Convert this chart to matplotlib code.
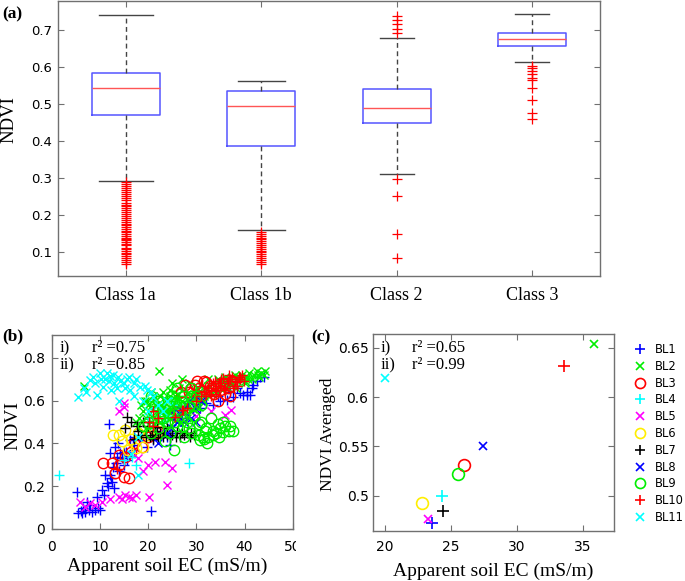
import matplotlib
matplotlib.use("Agg")
import matplotlib.pyplot as plt
from matplotlib.lines import Line2D
from matplotlib.patches import Rectangle

# ---------------- Panel (a) data: box statistics ----------------
classes = ["Class 1a", "Class 1b", "Class 2", "Class 3"]
box_q1 = [0.470, 0.387, 0.448, 0.659]
box_med = [0.545, 0.494, 0.490, 0.676]
box_q3 = [0.585, 0.537, 0.542, 0.693]
whisk_lo = [0.293, 0.159, 0.312, 0.614]
whisk_hi = [0.742, 0.562, 0.679, 0.745]
fliers_1a = [0.068, 0.073, 0.079, 0.083, 0.088, 0.094, 0.098, 0.103, 0.107, 0.112,
             0.118, 0.121, 0.127, 0.132, 0.136, 0.139, 0.143, 0.148, 0.153, 0.158,
             0.163, 0.168, 0.172, 0.176, 0.182, 0.187, 0.193, 0.198, 0.203, 0.209,
             0.214, 0.219, 0.224, 0.228, 0.234, 0.241, 0.246, 0.251, 0.256, 0.262,
             0.268, 0.273, 0.279, 0.284, 0.289]
fliers_1b = [0.068, 0.074, 0.079, 0.084, 0.089, 0.094, 0.099, 0.104, 0.109, 0.114,
             0.119, 0.124, 0.129, 0.134, 0.138, 0.143, 0.148, 0.153]
fliers_2 = [0.739, 0.729, 0.718, 0.705, 0.692, 0.299, 0.252, 0.148, 0.083]
fliers_3 = [0.604, 0.597, 0.590, 0.581, 0.572, 0.567, 0.545, 0.511, 0.476, 0.459]
cap_widths = [0.40, 0.35, 0.25, 0.25]

# ---------------- Panel (b) data: NDVI vs apparent soil EC per baseline ----------------
bl_names = ["BL1", "BL2", "BL3", "BL4", "BL5", "BL6", "BL7", "BL8", "BL9", "BL10", "BL11"]
bl_colors = ["#0000ff", "#00ee00", "#ff0000", "#00ffff", "#ff00ff", "#ffee00",
             "#000000", "#0000ff", "#00ee00", "#ff0000", "#00ffff"]
bl_markers = ["+", "x", "o", "+", "x", "o", "+", "x", "o", "+", "x"]

b_x = {
    "BL1": [5.5, 6.2, 7.0, 8.3, 9.0, 10.0, 7.3, 5.2, 9.3, 11.4, 12.1, 11.1, 12.8, 13.5, 14.2, 14.9,
            15.6, 12.1, 13.1, 13.8, 16.3, 17.0, 18.3, 19.7, 21.1, 23.9, 11.8, 20.7, 12.5, 13.0, 10.5,
            14.0, 15.0, 16.0, 17.0, 8.0, 6.5, 24.5, 30.8, 33.5, 36.3, 37.7, 39.1, 40.5, 41.1, 41.8,
            43.2, 38.4, 35.0, 32.0, 39.7, 40.5, 41.5, 42.5, 44.0, 37.0, 34.5, 25.0, 27.0,
            6.0, 7.8, 9.6, 10.8, 11.6, 12.4, 13.4, 14.6, 15.4, 16.8],
    "BL2": [18.0, 19.0, 19.5, 20.0, 20.5, 21.0, 21.5, 22.0, 22.2, 22.5, 23.0, 23.5, 24.0, 24.5, 25.0,
            25.5, 26.0, 26.5, 27.0, 27.5, 28.0, 28.5, 29.0, 29.5, 30.0, 30.5, 31.0, 31.5, 32.0, 32.5,
            33.0, 33.5, 34.0, 34.5, 35.0, 35.5, 36.0, 36.5, 37.0, 37.5, 38.0, 38.5, 39.0, 39.5, 40.0,
            40.5, 41.0, 41.5, 42.0, 42.5, 43.0, 43.5, 44.0, 44.2, 6.6, 20.0, 22.0, 24.0, 26.0, 28.0,
            25.0, 27.0, 30.0, 23.0, 21.0, 18.5, 17.5, 19.2, 20.8, 22.8, 24.8, 26.3, 28.3, 29.8, 31.8,
            33.3, 35.3, 21.3, 23.7, 25.7, 27.7, 19.8, 32.8, 34.8, 36.8, 38.8, 40.8, 42.8,
            18.2, 19.4, 20.3, 21.6, 22.4, 23.3, 24.2, 25.3, 26.2, 27.3, 28.2, 29.3, 30.2, 31.3, 19.6,
            21.8, 23.9, 25.9, 27.9, 29.9, 20.6, 22.6, 24.6, 26.6, 28.6, 30.6, 32.6, 34.2, 36.2, 38.2,
            40.2],
    "BL3": [12.5, 13.2, 14.9, 16.0, 13.9, 15.3, 18.7, 17.0, 14.0, 16.5, 10.7, 27.7, 29.8, 32.1, 30.5,
            33.0, 34.0, 35.0, 36.0, 37.0, 35.5, 34.5, 36.5, 31.0, 24.0, 20.0, 22.0, 26.0, 28.5, 37.5,
            28.8, 31.6, 33.6, 26.8, 30.2, 32.8],
    "BL4": [1.45, 28.5, 16.6, 17.5, 20.0, 22.0, 24.0, 26.0, 23.0, 15.0, 25.0, 21.0, 27.0],
    "BL5": [5.9, 7.0, 9.0, 10.4, 13.9, 15.3, 16.7, 14.5, 16.0, 20.1, 21.5, 23.6, 24.9, 23.9, 14.9,
            37.3, 36.0, 8.0, 12.0, 17.5, 18.0, 20.0, 15.0, 14.0, 30.0, 33.0, 19.0, 22.0],
    "BL6": [12.8, 13.9, 15.2, 19.0, 15.9, 16.5, 18.0, 14.5, 17.5, 22.0, 20.0],
    "BL7": [15.6, 15.2, 20.4, 23.9, 26.6, 28.0, 21.8, 18.0, 19.0, 22.5, 25.0, 27.0, 17.0, 16.5,
            24.0, 29.0, 20.0, 21.0, 23.0, 26.0, 19.5, 20.8, 22.0, 23.2, 24.6, 25.8, 27.4, 28.6, 29.6,
            21.4, 18.6, 17.6],
    "BL8": [25.0, 26.0, 27.0, 28.0, 29.0, 30.0, 24.0, 31.0, 27.5, 26.0, 28.5, 25.5, 30.0, 22.0],
    "BL9": [20.0, 21.0, 22.0, 22.0, 23.0, 24.0, 24.5, 25.0, 25.3, 26.0, 26.5, 27.0, 27.5, 28.0, 28.5,
            29.0, 29.5, 30.0, 30.5, 31.0, 31.5, 32.0, 32.5, 33.0, 33.5, 34.0, 34.5, 35.0, 35.5, 36.0,
            37.0, 19.0, 23.5, 26.0, 20.5, 29.0, 24.0, 27.0, 31.0, 31.4, 33.5, 35.6, 37.6, 30.8,
            21.5, 22.5, 23.5, 24.5, 25.5, 26.5, 27.5, 28.5, 29.5, 30.5, 20.5, 22.8, 25.8, 28.8, 31.8,
            34.8, 36.8, 32.3, 24.2, 27.2],
    "BL10": [20.1, 21.0, 27.0, 28.0, 30.0, 31.0, 32.0, 33.0, 34.0, 35.0, 35.6, 36.5, 37.0, 38.0,
             39.0, 39.5, 36.0, 34.0, 38.5, 33.0, 13.5, 21.0, 22.0, 33.5, 37.5, 25.6, 27.3, 39.0, 38.4,
             31.5, 32.5, 34.5, 35.2, 36.8, 37.8, 38.8, 39.8, 33.8, 35.8],
    "BL11": [5.5, 6.6, 8.0, 9.3, 10.0, 10.7, 11.4, 12.0, 12.8, 13.5, 14.2, 15.0, 15.6, 16.3, 17.0,
             18.3, 19.7, 21.1, 9.0, 11.0, 13.0, 16.0, 17.9, 14.0, 17.0, 19.0, 22.0, 24.0, 20.0, 23.0,
             16.5, 18.0, 7.2, 8.6, 10.3, 11.8, 13.7, 15.3, 17.5, 19.3, 20.6, 12.4],
}
b_y = {
    "BL1": [0.076, 0.076, 0.080, 0.081, 0.090, 0.089, 0.128, 0.174, 0.151, 0.213, 0.252, 0.252, 0.291,
            0.338, 0.354, 0.361, 0.322, 0.354, 0.385, 0.400, 0.416, 0.431, 0.416, 0.385, 0.416, 0.431,
            0.489, 0.086, 0.220, 0.190, 0.180, 0.270, 0.300, 0.340, 0.370, 0.110, 0.100, 0.390, 0.564,
            0.579, 0.603, 0.618, 0.634, 0.642, 0.626, 0.673, 0.712, 0.657, 0.600, 0.590, 0.626, 0.626,
            0.660, 0.690, 0.710, 0.640, 0.620, 0.450, 0.520,
            0.085, 0.090, 0.100, 0.160, 0.200, 0.240, 0.310, 0.330, 0.360, 0.390],
    "BL2": [0.48, 0.55, 0.52, 0.58, 0.50, 0.56, 0.60, 0.53, 0.74, 0.62, 0.57, 0.50, 0.60, 0.65, 0.55,
            0.62, 0.58, 0.66, 0.60, 0.55, 0.63, 0.68, 0.60, 0.65, 0.58, 0.64, 0.67, 0.62, 0.66, 0.70,
            0.64, 0.68, 0.66, 0.70, 0.67, 0.69, 0.71, 0.66, 0.70, 0.68, 0.72, 0.69, 0.70, 0.72, 0.69,
            0.71, 0.73, 0.70, 0.72, 0.74, 0.71, 0.73, 0.72, 0.74, 0.67, 0.46, 0.44, 0.47, 0.50, 0.52,
            0.68, 0.70, 0.61, 0.64, 0.62, 0.58, 0.50, 0.45, 0.53, 0.56, 0.52, 0.60, 0.57, 0.61, 0.64,
            0.63, 0.65, 0.49, 0.55, 0.53, 0.58, 0.60, 0.67, 0.69, 0.68, 0.71, 0.70, 0.72,
            0.52, 0.60, 0.54, 0.58, 0.50, 0.61, 0.55, 0.59, 0.63, 0.57, 0.61, 0.56, 0.66, 0.60, 0.47,
            0.51, 0.53, 0.56, 0.58, 0.63, 0.64, 0.58, 0.62, 0.53, 0.55, 0.57, 0.62, 0.64, 0.68, 0.66,
            0.68],
    "BL3": [0.307, 0.260, 0.244, 0.237, 0.346, 0.338, 0.385, 0.400, 0.300, 0.360, 0.307, 0.673, 0.673,
            0.688, 0.660, 0.650, 0.670, 0.650, 0.630, 0.620, 0.680, 0.600, 0.660, 0.620, 0.500, 0.430,
            0.450, 0.550, 0.640, 0.690, 0.660, 0.690, 0.630, 0.640, 0.690, 0.670],
    "BL4": [0.252, 0.308, 0.338, 0.300, 0.520, 0.550, 0.530, 0.580, 0.500, 0.320, 0.600, 0.470, 0.560],
    "BL5": [0.128, 0.104, 0.112, 0.128, 0.151, 0.159, 0.143, 0.140, 0.150, 0.151, 0.314, 0.314, 0.284,
            0.206, 0.587, 0.556, 0.533, 0.120, 0.140, 0.160, 0.330, 0.300, 0.570, 0.550, 0.530, 0.550,
            0.270, 0.450],
    "BL6": [0.440, 0.440, 0.463, 0.385, 0.369, 0.420, 0.450, 0.410, 0.380, 0.460, 0.440],
    "BL7": [0.525, 0.470, 0.431, 0.440, 0.431, 0.447, 0.478, 0.460, 0.500, 0.450, 0.440, 0.450, 0.420,
            0.500, 0.470, 0.450, 0.480, 0.420, 0.430, 0.460, 0.430, 0.440, 0.430, 0.450, 0.430, 0.430,
            0.440, 0.430, 0.440, 0.460, 0.440, 0.480],
    "BL8": [0.47, 0.50, 0.55, 0.58, 0.52, 0.56, 0.45, 0.60, 0.50, 0.53, 0.60, 0.56, 0.50, 0.40],
    "BL9": [0.50, 0.55, 0.60, 0.47, 0.52, 0.57, 0.45, 0.62, 0.37, 0.48, 0.55, 0.60, 0.43, 0.50, 0.57,
            0.45, 0.53, 0.62, 0.44, 0.50, 0.42, 0.47, 0.43, 0.52, 0.46, 0.45, 0.49, 0.47, 0.50, 0.48,
            0.48, 0.48, 0.41, 0.66, 0.62, 0.66, 0.50, 0.52, 0.58, 0.431, 0.440, 0.455, 0.460, 0.416,
            0.58, 0.52, 0.56, 0.60, 0.50, 0.58, 0.62, 0.47, 0.58, 0.49, 0.45, 0.55, 0.59, 0.62, 0.46,
            0.43, 0.46, 0.40, 0.54, 0.48],
    "BL10": [0.50, 0.48, 0.556, 0.564, 0.60, 0.62, 0.63, 0.65, 0.66, 0.68, 0.704, 0.69, 0.70, 0.69,
             0.70, 0.72, 0.66, 0.63, 0.67, 0.62, 0.28, 0.55, 0.52, 0.68, 0.71, 0.525, 0.556, 0.712, 0.688,
             0.64, 0.66, 0.67, 0.70, 0.72, 0.66, 0.71, 0.69, 0.69, 0.65],
    "BL11": [0.615, 0.660, 0.696, 0.626, 0.727, 0.665, 0.727, 0.715, 0.720, 0.657, 0.690, 0.680, 0.700,
             0.650, 0.680, 0.665, 0.650, 0.618, 0.680, 0.700, 0.680, 0.710, 0.252, 0.600, 0.620, 0.600,
             0.580, 0.600, 0.550, 0.550, 0.350, 0.430, 0.640, 0.710, 0.700, 0.690, 0.710, 0.660, 0.700,
             0.670, 0.640, 0.650],
}

# ---------------- Panel (c) data: averaged values per baseline ----------------
c_ec = [23.59, 35.88, 25.98, 24.34, 23.26, 22.83, 24.37, 27.42, 25.53, 33.59, 20.0]
c_ndvi = [0.4726, 0.6537, 0.5314, 0.500, 0.4767, 0.4929, 0.4848, 0.550, 0.5223, 0.6318, 0.6189]

# ---------------- figure ----------------
W, H = 685, 581
fig = plt.figure(figsize=(W / 100, H / 100), dpi=100)
SERIF = ["Liberation Serif", "DejaVu Serif"]
SANS = ["DejaVu Sans"]
SPINE = "#707070"


def ax_rect(l, t, r, b):
    return [l / W, 1 - b / H, (r - l) / W, (b - t) / H]


def style(ax, fs, padx, pady):
    for s in ax.spines.values():
        s.set_color(SPINE)
        s.set_linewidth(1.0)
    ax.tick_params(direction="in", top=True, right=True, length=4, width=0.8, color=SPINE)
    ax.tick_params(axis="y", labelsize=fs, pad=pady)
    ax.tick_params(axis="x", pad=padx)
    for lab in ax.get_yticklabels():
        lab.set_fontfamily(SANS)


# ---- (a) ----
axa = fig.add_axes(ax_rect(58, 0.5, 600, 276))
stats = []
fl = [fliers_1a, fliers_1b, fliers_2, fliers_3]
for i in range(4):
    stats.append(dict(med=box_med[i], q1=box_q1[i], q3=box_q3[i],
                      whislo=whisk_lo[i], whishi=whisk_hi[i], fliers=fl[i], label=classes[i]))
axa.bxp(stats, positions=[1, 2, 3, 4], widths=0.5, capwidths=cap_widths,
        boxprops=dict(color="#5555ff", lw=1.1),
        medianprops=dict(color="#ff5555", lw=1.0),
        whiskerprops=dict(color="#444444", lw=1.0, linestyle=(0, (3.5, 2.5))),
        capprops=dict(color="#444444", lw=1.0),
        flierprops=dict(marker="+", markeredgecolor="#ff0000", markersize=7.5, markeredgewidth=0.9))
axa.set_xlim(0.5, 4.5)
axa.set_ylim(0.035, 0.781)
axa.set_yticks([0.1, 0.2, 0.3, 0.4, 0.5, 0.6, 0.7])
axa.set_yticklabels(["0.1", "0.2", "0.3", "0.4", "0.5", "0.6", "0.7"])
style(axa, 9.5, 8, 4)
for lab in axa.get_xticklabels():
    lab.set_fontfamily(SERIF)
    lab.set_fontsize(13)
fig.text(9 / W, 1 - 120 / H, "NDVI", rotation=90, ha="center", va="center",
         family=SERIF, fontsize=13.5)
fig.text(12 / W, 1 - 14 / H, "(a)", ha="center", va="center", family=SERIF,
         fontsize=12.5, fontweight="bold")

# ---- (b) ----
axb = fig.add_axes(ax_rect(51.7, 335, 292.7, 529))
for i, name in enumerate(bl_names):
    mk = bl_markers[i]
    kw = dict(marker=mk, linestyle="none", markersize=7 if mk != "x" else 6,
              markeredgewidth=1.0)
    if mk == "o":
        kw.update(markerfacecolor="none", markeredgecolor=bl_colors[i], markersize=7.5)
    else:
        kw.update(color=bl_colors[i])
    axb.plot(b_x[name], b_y[name], **kw)
axb.set_xlim(0, 50)
axb.set_ylim(0, 0.906)
axb.set_xticks([0, 10, 20, 30, 40, 50])
axb.set_yticks([0, 0.2, 0.4, 0.6, 0.8])
axb.set_yticklabels(["0", "0.2", "0.4", "0.6", "0.8"])
style(axb, 10, 8, 5)
for lab in axb.get_xticklabels():
    lab.set_fontfamily(SANS)
    lab.set_fontsize(10)
axb.text(60 / W, 1 - 348 / H, "i)", transform=fig.transFigure, family=SERIF, fontsize=12,
         ha="left", va="center")
axb.text(60 / W, 1 - 365 / H, "ii)", transform=fig.transFigure, family=SERIF, fontsize=12,
         ha="left", va="center")
axb.text(92.5 / W, 1 - 348 / H, "r\u00b2 =0.75", transform=fig.transFigure, family=SERIF,
         fontsize=12, ha="left", va="center")
axb.text(92.5 / W, 1 - 365 / H, "r\u00b2 =0.85", transform=fig.transFigure, family=SERIF,
         fontsize=12, ha="left", va="center")
fig.text(167.5 / W, 1 - 566 / H, "Apparent soil EC (mS/m)", ha="center", va="center",
         family=SERIF, fontsize=14)
fig.text(13 / W, 1 - 426 / H, "NDVI", rotation=90, ha="center", va="center",
         family=SERIF, fontsize=14)
fig.text(13 / W, 1 - 336 / H, "(b)", ha="center", va="center", family=SERIF,
         fontsize=12.5, fontweight="bold")

# ---- (c) ----
axc = fig.add_axes(ax_rect(372.7, 334, 614.3, 530.7))
handles = []
for i, name in enumerate(bl_names):
    mk = bl_markers[i]
    kw = dict(marker=mk, linestyle="none", markeredgewidth=1.2,
              markersize=8 if mk == "+" else (6 if mk == "x" else 8.5))
    if mk == "o":
        kw.update(markerfacecolor="none", markeredgecolor=bl_colors[i])
    else:
        kw.update(color=bl_colors[i])
    axc.plot([c_ec[i]], [c_ndvi[i]], **kw)
    hkw = dict(kw)
    hkw["markersize"] = kw["markersize"] * 0.85
    handles.append(Line2D([], [], **hkw))
axc.set_xlim(19.07, 37.4)
axc.set_ylim(0.4645, 0.664)
axc.set_xticks([20, 25, 30, 35])
axc.set_yticks([0.5, 0.55, 0.6, 0.65])
axc.set_yticklabels(["0.5", "0.55", "0.6", "0.65"])
style(axc, 10, 7, 3)
for lab in axc.get_xticklabels():
    lab.set_fontfamily(SANS)
    lab.set_fontsize(10)
axc.text(381 / W, 1 - 348 / H, "i)", transform=fig.transFigure, family=SERIF, fontsize=12,
         ha="left", va="center")
axc.text(381 / W, 1 - 365 / H, "ii)", transform=fig.transFigure, family=SERIF, fontsize=12,
         ha="left", va="center")
axc.text(411.5 / W, 1 - 348 / H, "r\u00b2 =0.65", transform=fig.transFigure, family=SERIF,
         fontsize=12, ha="left", va="center")
axc.text(411.5 / W, 1 - 365 / H, "r\u00b2 =0.99", transform=fig.transFigure, family=SERIF,
         fontsize=12, ha="left", va="center")
fig.text(493 / W, 1 - 571 / H, "Apparent soil EC (mS/m)", ha="center", va="center",
         family=SERIF, fontsize=14)
fig.text(328 / W, 1 - 434 / H, "NDVI Averaged", rotation=90, ha="center", va="center",
         family=SERIF, fontsize=12.5)
fig.text(321 / W, 1 - 337 / H, "(c)", ha="center", va="center", family=SERIF,
         fontsize=12.5, fontweight="bold")

leg = axc.legend(handles, bl_names, loc="upper left", bbox_to_anchor=(634 / W, 1 - 343 / H),
                 bbox_transform=fig.transFigure, frameon=False, prop=dict(family=SANS, size=8.3),
                 handlelength=1.0, handletextpad=0.8, labelspacing=0.33, borderpad=0,
                 borderaxespad=0, numpoints=1)

# white patch hiding the right half of the last x tick label of (b), as in the reference
fig.patches.append(Rectangle((296 / W, 1 - 560 / H), 14 / W, 22 / H, transform=fig.transFigure,
                             facecolor="white", edgecolor="none", zorder=10))

fig.savefig("out.png", dpi=100)
